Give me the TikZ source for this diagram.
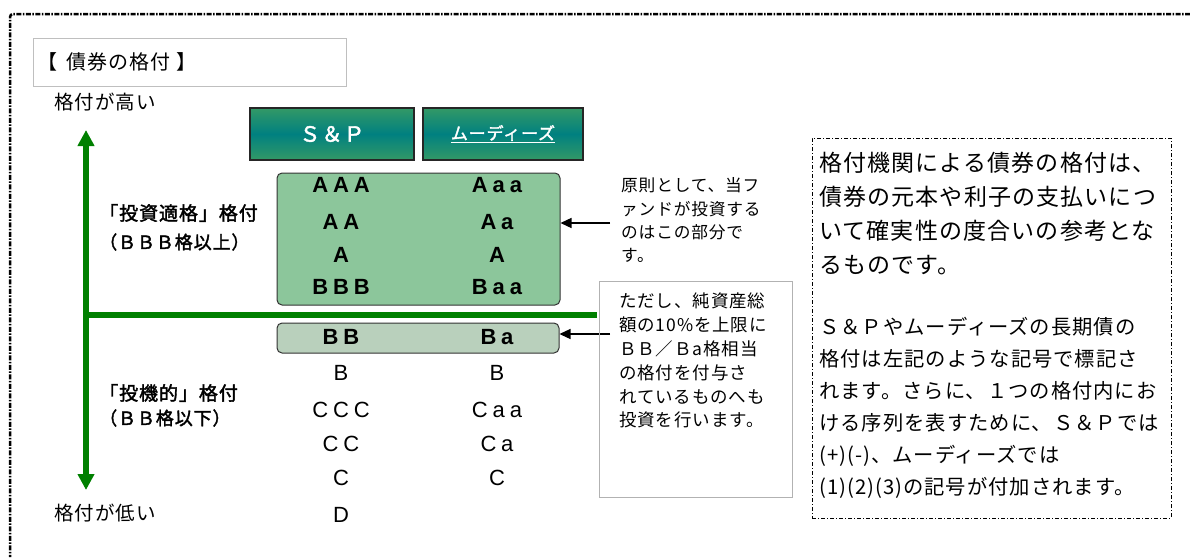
\documentclass[tikz,border=0pt]{standalone}
\usepackage{xcolor}
\usepackage{tikz}
\usetikzlibrary{arrows.meta, positioning}
\usepackage{fontspec}
\newfontfamily\jfont[LetterSpace=5]{Noto Sans CJK JP}
\newfontfamily\jbold[LetterSpace=5,FakeBold=2]{Noto Sans CJK JP}
\newfontfamily\ratefont[LetterSpace=22]{Liberation Sans}
\definecolor{lineGreen}{RGB}{0,128,0}
\definecolor{tabTop}{RGB}{51,153,102}
\definecolor{tabMid}{RGB}{0,128,128}
\definecolor{gradeFill}{RGB}{140,198,155}
\definecolor{lowFill}{RGB}{185,208,188}

\begin{document}
\begin{tikzpicture}[x=1pt, y=-1pt,
				tab/.style={draw=black!85, line width=1.2pt, minimum width=164, minimum height=52,
					top color=tabTop, bottom color=tabTop, middle color=tabMid, text=white},
				grade/.style={draw=black!80, line width=1pt, rounded corners=5pt},
				rate/.style={font=\ratefont\bfseries\fontsize{22}{22}\selectfont},
				lowrate/.style={font=\ratefont\fontsize{22}{22}\selectfont},
				lab/.style={anchor=west, inner sep=0pt},
				note/.style={anchor=north west, inner sep=0pt, align=left},
				pointer/.style={-{Triangle[length=11pt,width=10pt]}, line width=1.3pt}]
				\useasboundingbox (0,0) rectangle (1190,557);
				\draw[line width=2.5pt, dash pattern=on 5pt off 1.5pt on 1.5pt off 1.5pt, rounded corners=3pt] (1190,14) -- (10,14) -- (10,557);
				\node at (190,62) (title) [draw=black!25, line width=0.8pt, minimum width=313, minimum height=48, text width=305, align=left, font=\jfont\fontsize{20}{20}\selectfont] {【\hspace{9pt}債券の格付\hspace{6pt}】};
				\node at (54,102) (high) [lab, font=\jfont\fontsize{19.5}{19.5}\selectfont] {格付が高い};
				\node at (54,513) (low) [lab, font=\jfont\fontsize{19.5}{19.5}\selectfont] {格付が低い};
				\coordinate (top) at (86,130);
				\coordinate (bottom) at (86,490);
				\coordinate (split) at (86,315);
				\coordinate (splitEnd) at (597,315);
				\draw[{Triangle[length=16pt,width=16pt]}-{Triangle[length=16pt,width=16pt]}, lineGreen, line width=5.5pt] (top) -- (bottom);
				\draw[lineGreen, line width=5.5pt] (split) -- (splitEnd);
				\node at (99,213) (invGrade) [lab, font=\jbold\fontsize{19}{19}\selectfont] {「投資適格」格付};
				\node at (99,242) (invRange) [lab, font=\jbold\fontsize{18}{18}\selectfont] {（ＢＢＢ格以上）};
				\node at (99,393) (specGrade) [lab, font=\jbold\fontsize{19}{19}\selectfont] {「投機的」格付};
				\node at (99,418) (specRange) [lab, font=\jbold\fontsize{18}{18}\selectfont] {（ＢＢ格以下）};
				\node at (332,134) (sp) [tab, font=\jbold\fontsize{21}{21}\selectfont] {Ｓ＆Ｐ};
				\node at (503,134) (moody) [tab, minimum width=160, font=\jbold\fontsize{17}{17}\selectfont] {\underline{ムーディーズ}};
				\node at (418.5,239) (invest) [grade, fill=gradeFill, minimum width=283, minimum height=132] {};
				\node at (418,338) (bbband) [grade, fill=lowFill, minimum width=282, minimum height=30] {};
				\node at (341,185) (s1) [rate] {AAA};
				\node at (497,185) (m1) [rate] {Aaa};
				\node at (341,222) (s2) [rate] {AA};
				\node at (497,222) (m2) [rate] {Aa};
				\node at (341,255) (s3) [rate] {A};
				\node at (497,255) (m3) [rate] {A};
				\node at (341,287) (s4) [rate] {BBB};
				\node at (497,287) (m4) [rate] {Baa};
				\node at (341,337) (s5) [rate] {BB};
				\node at (497,337) (m5) [rate] {Ba};
				\node at (341,373) (s6) [lowrate] {B};
				\node at (497,373) (m6) [lowrate] {B};
				\node at (341,410) (s7) [lowrate] {CCC};
				\node at (497,410) (m7) [lowrate] {Caa};
				\node at (341,444) (s8) [lowrate] {CC};
				\node at (497,444) (m8) [lowrate] {Ca};
				\node at (341,478) (s9) [lowrate] {C};
				\node at (497,478) (m9) [lowrate] {C};
				\node at (341,515) (s10) [lowrate] {D};
				\node at (621,177.5) (principle) [note, font=\jfont\fontsize{16.7}{23.3}\selectfont] {原則として、当フ\\ァンドが投資する\\のはこの部分で\\す。};
				\coordinate (p1) at (610,223);
				\coordinate (p2) at (610,334);
				\draw[pointer] (p1) -- (p1 -| invest.east);
				\draw[pointer] (p2) -- (p2 -| bbband.east);
				\node at (695.5,389) (limitbox) [draw=black!30, line width=0.8pt, minimum width=193, minimum height=216] {};
				\node at (619,293) (limit) [note, font=\jfont\fontsize{17.5}{23.8}\selectfont] {ただし、純資産総\\額の10\%を上限に\\ＢＢ／Ｂa格相当\\の格付を付与さ\\れているものへも\\投資を行います。};
				\node at (991.5,328) (infobox) [draw, line width=1pt, dash pattern=on 4pt off 2pt on 1pt off 2pt, minimum width=359, minimum height=380] {};
				\node at (819,151.5) (info) [note, font=\jfont\fontsize{23}{34}\selectfont] {格付機関による債券の格付は、\\債券の元本や利子の支払いにつ\\いて確実性の度合いの参考とな\\るものです。};
				\node at (819,317) (symbols) [note, font=\jfont\fontsize{20.3}{32}\selectfont] {Ｓ＆Ｐやムーディーズの長期債の\\格付は左記のような記号で標記さ\\れます。さらに、１つの格付内にお\\ける序列を表すために、Ｓ＆Ｐでは\\(+)(-)、ムーディーズでは\\(1)(2)(3)の記号が付加されます。};
			\end{tikzpicture}
\end{document}
